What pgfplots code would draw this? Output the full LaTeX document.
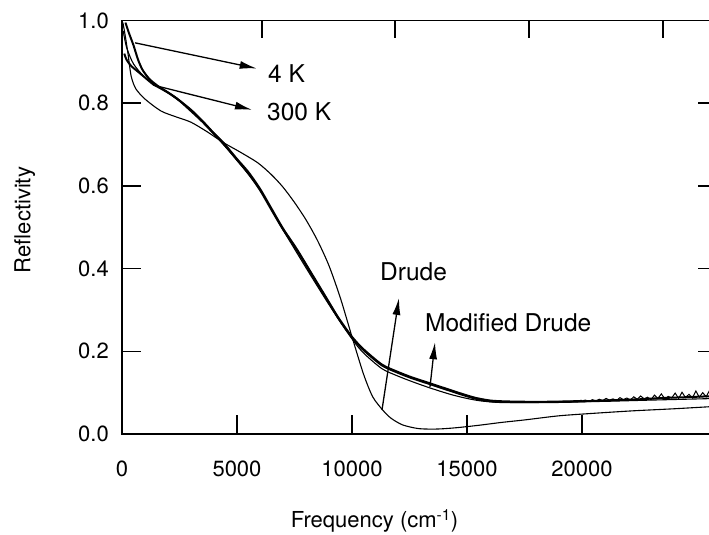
\documentclass[border=0pt]{standalone}
\usepackage{fontspec}
\setmainfont{TeX Gyre Heros}
\usepackage{pgfplots}
\usepackage{pgfplotstable}
\pgfplotsset{compat=1.18}
\usetikzlibrary{arrows.meta}

\pgfplotstableread{
x y
150 0.995
300 0.97
500 0.94
700 0.905
900 0.88
1200 0.858
1600 0.84
2000 0.826
2500 0.806
3000 0.781
3500 0.755
4000 0.726
4400 0.703
5000 0.663
5500 0.630
6000 0.590
6500 0.542
7000 0.495
7600 0.445
8200 0.390
8800 0.335
9400 0.280
10000 0.233
10500 0.203
11300 0.166
12000 0.148
12600 0.135
13200 0.124
13800 0.113
14400 0.102
14900 0.093
15400 0.085
16000 0.079
16600 0.077
17500 0.077
18500 0.077
19500 0.078
20500 0.080
21500 0.082
22500 0.084
23500 0.087
24500 0.089
25870 0.092
}\fourK

\pgfplotstableread{
x y
100 0.920
200 0.905
400 0.890
700 0.876
1000 0.862
1350 0.846
1800 0.832
2300 0.815
3000 0.784
3500 0.757
4000 0.727
4400 0.705
5000 0.665
5500 0.633
6000 0.593
6500 0.545
7000 0.497
7600 0.447
8200 0.392
8800 0.337
9400 0.282
10000 0.235
10500 0.205
11300 0.168
12000 0.150
12600 0.137
13200 0.126
13800 0.115
14400 0.104
14900 0.095
15400 0.087
16000 0.081
16600 0.079
17500 0.078
18500 0.078
19500 0.079
20000 0.080
}\threeK

\pgfplotstableread{
x y
20000 0.080
20150 0.082
20300 0.079
20450 0.083
20600 0.080
20750 0.084
20900 0.081
21050 0.086
21200 0.082
21350 0.085
21500 0.081
21650 0.088
21800 0.083
21950 0.087
22100 0.082
22250 0.090
22400 0.084
22550 0.092
22700 0.085
22850 0.089
23000 0.083
23150 0.094
23300 0.086
23450 0.097
23600 0.085
23750 0.091
23900 0.087
24050 0.099
24200 0.086
24350 0.101
24500 0.088
24650 0.096
24800 0.087
24950 0.104
25100 0.089
25250 0.100
25400 0.090
25550 0.106
25700 0.091
25870 0.102
}\threeKnoise

\pgfplotstableread{
x y
50 0.975
200 0.935
500 0.895
1000 0.862
1500 0.843
2000 0.826
3000 0.783
4000 0.725
5000 0.662
6000 0.590
7000 0.494
8000 0.402
9000 0.313
10000 0.230
10500 0.196
11300 0.158
12000 0.140
12600 0.127
13200 0.115
13800 0.104
14400 0.094
15000 0.086
15600 0.080
16300 0.077
17500 0.076
19000 0.077
21000 0.079
23000 0.082
25870 0.086
}\modDrude

\pgfplotstableread{
x y
40 0.995
150 0.960
260 0.920
400 0.865
600 0.835
1000 0.810
1700 0.781
2400 0.766
3000 0.754
3700 0.731
4400 0.705
5100 0.683
5900 0.656
6500 0.627
7000 0.597
7500 0.560
8000 0.518
8500 0.468
9000 0.407
9500 0.328
10000 0.235
10500 0.145
10900 0.090
11350 0.057
11700 0.038
12200 0.022
12900 0.013
13700 0.012
14500 0.015
15500 0.021
16500 0.028
17500 0.034
19000 0.044
20500 0.050
22200 0.056
24000 0.061
25870 0.067
}\drude

\begin{document}
\begin{tikzpicture}
\useasboundingbox (-122pt,-101pt) rectangle (587pt,434pt);
\begin{axis}[
  at={(0pt,0pt)}, anchor=south west,
  width=595pt, height=413.5pt, scale only axis,
  xmin=0, xmax=25870, ymin=0, ymax=1,
  xtick={0,5000,10000,15000,20000},
  ytick={0,0.2,0.4,0.6,0.8,1.0},
  xtick pos=bottom, ytick pos=both,
  tick align=inside,
  major tick length=19pt,
  scaled x ticks=false, scaled y ticks=false,
  axis line style={line width=1.6pt},
  every tick/.style={line width=1.4pt, black},
  /pgf/number format/assume math mode=true,
  /pgf/number format/set thousands separator={},
  yticklabel style={/pgf/number format/fixed, /pgf/number format/fixed zerofill, /pgf/number format/precision=1, inner sep=0pt, xshift=-13pt, font=\fontsize{22}{26}\selectfont},
  xticklabel style={inner sep=0pt, yshift=-27pt, font=\fontsize{22}{26}\selectfont},
  xlabel={Frequency (cm\textsuperscript{-1})},
  ylabel={Reflectivity},
  xlabel style={at={(axis description cs:0.4244,-0.2273)}, anchor=base, inner sep=0pt, font=\fontsize{22}{26}\selectfont},
  ylabel style={at={(axis description cs:-0.1815,0.5175)}, anchor=north, inner sep=0pt, font=\fontsize{22}{26}\selectfont},
  clip=true,
]
\addplot[black, line width=1.1pt, smooth, tension=0.45] table {\drude};
\addplot[black, line width=1.1pt, smooth, tension=0.45] table {\modDrude};
\addplot[black, line width=2.0pt, smooth, tension=0.45] table {\threeK};
\addplot[black, line width=1.0pt] table {\threeKnoise};
\addplot[black, line width=2.0pt, smooth, tension=0.45] table {\fourK};

\draw[black, line width=1.3pt, -{Latex[length=17pt,width=8pt]}] (axis cs:565,0.946) -- (axis cs:5857,0.884);
\draw[black, line width=1.3pt, -{Latex[length=17pt,width=8pt]}] (axis cs:1348,0.844) -- (axis cs:5652,0.784);
\draw[black, line width=1.3pt, -{Latex[length=17pt,width=8pt]}] (axis cs:11304,0.058) -- (axis cs:12043,0.329);
\draw[black, line width=1.3pt, -{Latex[length=17pt,width=8pt]}] (axis cs:13391,0.114) -- (axis cs:13609,0.222);

\node[anchor=west, inner sep=0pt, font=\fontsize{24.5}{28}\selectfont] at (axis cs:6348,0.872) {4 K};
\node[anchor=west, inner sep=0pt, font=\fontsize{24.5}{28}\selectfont] at (axis cs:6304,0.780) {300 K};
\node[anchor=west, inner sep=0pt, font=\fontsize{24.5}{28}\selectfont] at (axis cs:11217,0.392) {Drude};
\node[anchor=west, inner sep=0pt, font=\fontsize{24.5}{28}\selectfont] at (axis cs:13174,0.270) {Modified Drude};
\end{axis}
\begin{axis}[
  at={(0pt,0pt)}, anchor=south west,
  width=595pt, height=413.5pt, scale only axis,
  xmin=0, xmax=25870, ymin=0, ymax=1,
  hide y axis,
  axis x line*=top,
  scaled x ticks=false,
  xtick={6087,11870,17696,23522},
  xticklabels={},
  tick align=inside,
  major tick length=18pt,
  axis line style={line width=1.6pt, -},
  every tick/.style={line width=1.4pt, black},
]
\end{axis}
\end{tikzpicture}
\end{document}
